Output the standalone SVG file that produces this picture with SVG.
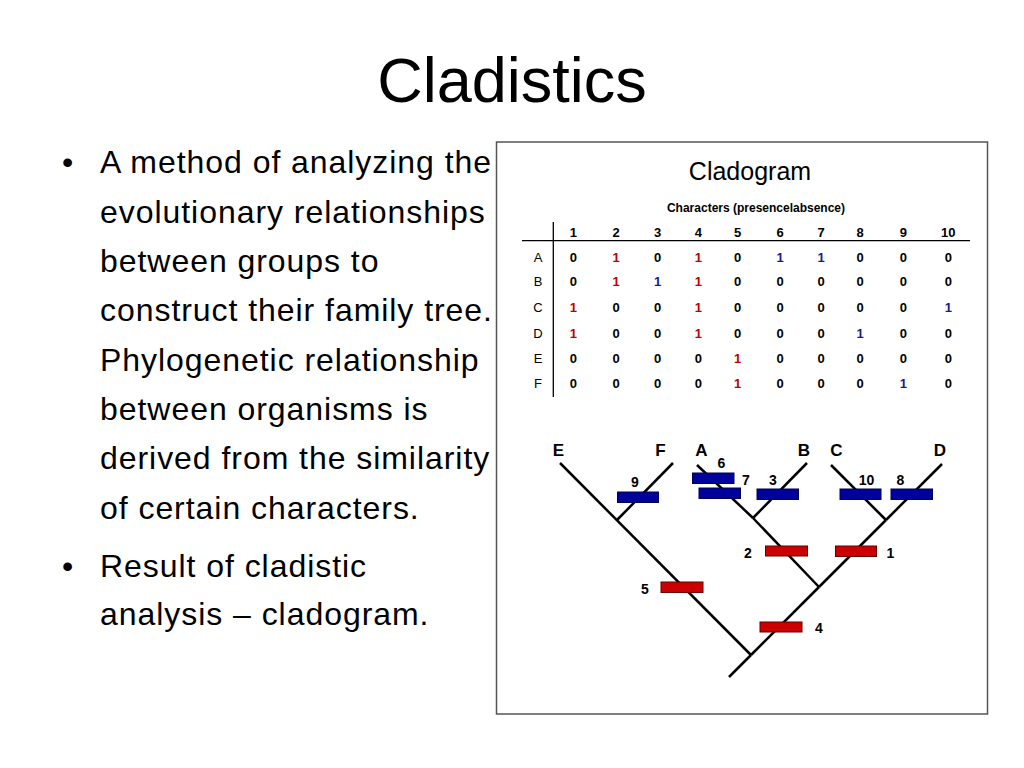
<svg xmlns="http://www.w3.org/2000/svg" width="1024" height="768" viewBox="0 0 1024 768">
<style>
text{font-family:"Liberation Sans",Arial,sans-serif;fill:#000}
.title{font-size:63px}
.bul{font-size:32px;letter-spacing:0.95px}
.tb{font-size:13px;font-weight:bold;text-anchor:middle}
.rl{font-size:13px;text-anchor:middle}
.r{fill:#c00000}
.b{fill:#1a1a8c}
.tax{font-size:17px;font-weight:bold;text-anchor:middle}
.num{font-size:14px;font-weight:bold;text-anchor:middle}
.barB{fill:#00009a;stroke:#000055;stroke-width:1}
.barR{fill:#cc0000;stroke:#660000;stroke-width:1}
.ln{stroke:#000;stroke-width:2.5;fill:none}
</style>
<rect width="1024" height="768" fill="#fff"/>
<g id="title"><text class="title" x="512" y="102" text-anchor="middle">Cladistics</text></g>
<g id="bullets">
<text class="bul" x="62" y="173">•</text>
<text class="bul" x="100" y="173">A method of analyzing the</text>
<text class="bul" x="100" y="222.5">evolutionary relationships</text>
<text class="bul" x="100" y="272">between groups to</text>
<text class="bul" x="100" y="321">construct their family tree.</text>
<text class="bul" x="100" y="370.5">Phylogenetic relationship</text>
<text class="bul" x="100" y="420">between organisms is</text>
<text class="bul" x="100" y="469">derived from the similarity</text>
<text class="bul" x="100" y="518.5">of certain characters.</text>
<text class="bul" x="62" y="577">•</text>
<text class="bul" x="100" y="577">Result of cladistic</text>
<text class="bul" x="100" y="625">analysis – cladogram.</text>
</g>
<g id="frame">
<rect x="496.5" y="142" width="491" height="572" fill="none" stroke="#555" stroke-width="1.5"/>
<text x="750" y="180" font-size="25" text-anchor="middle">Cladogram</text>
</g>
<g id="table">
<text x="756" y="212" font-size="12" font-weight="bold" text-anchor="middle">Characters (presencelabsence)</text>
<line x1="522" y1="240.7" x2="970" y2="240.7" stroke="#000" stroke-width="1.3"/>
<line x1="553.3" y1="222" x2="553.3" y2="397" stroke="#000" stroke-width="1.3"/>
<g class="hdr">
<text class="tb" x="573.3" y="236.5">1</text><text class="tb" x="616" y="236.5">2</text><text class="tb" x="657.7" y="236.5">3</text><text class="tb" x="698.3" y="236.5">4</text><text class="tb" x="737.7" y="236.5">5</text><text class="tb" x="780" y="236.5">6</text><text class="tb" x="821" y="236.5">7</text><text class="tb" x="860" y="236.5">8</text><text class="tb" x="903.3" y="236.5">9</text><text class="tb" x="948.3" y="236.5">10</text>
</g>
<g id="rowA">
<text class="rl" x="538" y="261.5">A</text>
<text class="tb" x="573.3" y="261.5">0</text><text class="tb r" x="616" y="261.5">1</text><text class="tb" x="657.7" y="261.5">0</text><text class="tb r" x="698.3" y="261.5">1</text><text class="tb" x="737.7" y="261.5">0</text><text class="tb b" x="780" y="261.5">1</text><text class="tb b" x="821" y="261.5">1</text><text class="tb" x="860" y="261.5">0</text><text class="tb" x="903.3" y="261.5">0</text><text class="tb" x="948.3" y="261.5">0</text>
</g>
<g id="rowB">
<text class="rl" x="538" y="285.5">B</text>
<text class="tb" x="573.3" y="285.5">0</text><text class="tb r" x="616" y="285.5">1</text><text class="tb b" x="657.7" y="285.5">1</text><text class="tb r" x="698.3" y="285.5">1</text><text class="tb" x="737.7" y="285.5">0</text><text class="tb" x="780" y="285.5">0</text><text class="tb" x="821" y="285.5">0</text><text class="tb" x="860" y="285.5">0</text><text class="tb" x="903.3" y="285.5">0</text><text class="tb" x="948.3" y="285.5">0</text>
</g>
<g id="rowC">
<text class="rl" x="538" y="311.5">C</text>
<text class="tb r" x="573.3" y="311.5">1</text><text class="tb" x="616" y="311.5">0</text><text class="tb" x="657.7" y="311.5">0</text><text class="tb r" x="698.3" y="311.5">1</text><text class="tb" x="737.7" y="311.5">0</text><text class="tb" x="780" y="311.5">0</text><text class="tb" x="821" y="311.5">0</text><text class="tb" x="860" y="311.5">0</text><text class="tb" x="903.3" y="311.5">0</text><text class="tb b" x="948.3" y="311.5">1</text>
</g>
<g id="rowD">
<text class="rl" x="538" y="338">D</text>
<text class="tb r" x="573.3" y="338">1</text><text class="tb" x="616" y="338">0</text><text class="tb" x="657.7" y="338">0</text><text class="tb r" x="698.3" y="338">1</text><text class="tb" x="737.7" y="338">0</text><text class="tb" x="780" y="338">0</text><text class="tb" x="821" y="338">0</text><text class="tb b" x="860" y="338">1</text><text class="tb" x="903.3" y="338">0</text><text class="tb" x="948.3" y="338">0</text>
</g>
<g id="rowE">
<text class="rl" x="538" y="363">E</text>
<text class="tb" x="573.3" y="363">0</text><text class="tb" x="616" y="363">0</text><text class="tb" x="657.7" y="363">0</text><text class="tb" x="698.3" y="363">0</text><text class="tb r" x="737.7" y="363">1</text><text class="tb" x="780" y="363">0</text><text class="tb" x="821" y="363">0</text><text class="tb" x="860" y="363">0</text><text class="tb" x="903.3" y="363">0</text><text class="tb" x="948.3" y="363">0</text>
</g>
<g id="rowF">
<text class="rl" x="538" y="388">F</text>
<text class="tb" x="573.3" y="388">0</text><text class="tb" x="616" y="388">0</text><text class="tb" x="657.7" y="388">0</text><text class="tb" x="698.3" y="388">0</text><text class="tb r" x="737.7" y="388">1</text><text class="tb" x="780" y="388">0</text><text class="tb" x="821" y="388">0</text><text class="tb" x="860" y="388">0</text><text class="tb b" x="903.3" y="388">1</text><text class="tb" x="948.3" y="388">0</text>
</g>
</g>
<g id="connectors">
<line class="ln" x1="560" y1="463" x2="751" y2="655"/>
<line class="ln" x1="751" y1="655" x2="729" y2="677"/>
<line class="ln" x1="751" y1="655" x2="819" y2="587"/>
<line class="ln" x1="617" y1="520" x2="673" y2="463"/>
<line class="ln" x1="819" y1="587" x2="753" y2="518"/>
<line class="ln" x1="753" y1="518" x2="697" y2="465"/>
<line class="ln" x1="753" y1="518" x2="807" y2="463"/>
<line class="ln" x1="819" y1="587" x2="886" y2="520"/>
<line class="ln" x1="886" y1="520" x2="831" y2="465"/>
<line class="ln" x1="886" y1="520" x2="942" y2="464"/>
</g>
<g id="taxon-E"><text class="tax" x="558.5" y="456">E</text></g>
<g id="taxon-F"><text class="tax" x="660.5" y="456">F</text></g>
<g id="taxon-A"><text class="tax" x="701.5" y="456">A</text></g>
<g id="taxon-B"><text class="tax" x="804" y="456">B</text></g>
<g id="taxon-C"><text class="tax" x="836.5" y="456">C</text></g>
<g id="taxon-D"><text class="tax" x="940" y="456">D</text></g>
<g id="char-9"><rect class="barB" x="617.5" y="492" width="41" height="10.5"/><text class="num" x="635" y="487">9</text></g>
<g id="char-6"><rect class="barB" x="692.5" y="473" width="41.5" height="10.5"/><text class="num" x="721.5" y="468">6</text></g>
<g id="char-7"><rect class="barB" x="699" y="488" width="41.5" height="10.5"/><text class="num" x="746" y="485">7</text></g>
<g id="char-3"><rect class="barB" x="757" y="489" width="41.5" height="10.5"/><text class="num" x="773" y="485">3</text></g>
<g id="char-10"><rect class="barB" x="840" y="489" width="41" height="10.5"/><text class="num" x="866.5" y="485">10</text></g>
<g id="char-8"><rect class="barB" x="891" y="489" width="41.5" height="10.5"/><text class="num" x="900.5" y="485">8</text></g>
<g id="char-2"><rect class="barR" x="765.5" y="546" width="42" height="10"/><text class="num" x="748" y="558">2</text></g>
<g id="char-1"><rect class="barR" x="835.5" y="546" width="41" height="10.5"/><text class="num" x="890.5" y="558">1</text></g>
<g id="char-5"><rect class="barR" x="661" y="582" width="42" height="10.5"/><text class="num" x="645" y="594">5</text></g>
<g id="char-4"><rect class="barR" x="760" y="622" width="42" height="10"/><text class="num" x="819" y="633">4</text></g>
</svg>
